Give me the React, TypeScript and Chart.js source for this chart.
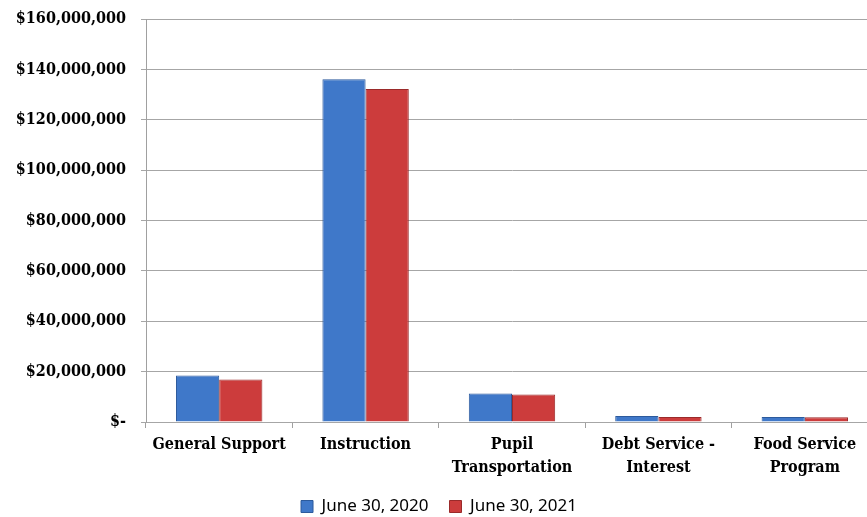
import React, { useEffect, useRef } from "react";
import { Chart, registerables } from "chart.js";

Chart.register(...registerables);

const categories: (string | string[])[] = [
  "General Support",
  "Instruction",
  ["Pupil", "Transportation"],
  ["Debt Service -", "Interest"],
  ["Food Service", "Program"],
];
const series2020 = [18500000, 136100000, 11300000, 2400000, 2000000];
const series2021 = [16900000, 132200000, 10900000, 2000000, 1900000];
const seriesLabels = ["June 30, 2020", "June 30, 2021"];
const yMax = 160000000;
const yStep = 20000000;

const serifBold = "'DejaVu Serif Condensed', 'DejaVu Serif', serif";

function fmt(v: number): string {
  if (v === 0) return "$-";
  return "$" + v.toLocaleString("en-US");
}

export default function App() {
  const ref = useRef<HTMLCanvasElement | null>(null);
  useEffect(() => {
    if (!ref.current) return;
    const chart = new Chart(ref.current, {
      type: "bar",
      data: {
        labels: categories,
        datasets: [
          {
            label: seriesLabels[0],
            data: series2020,
            backgroundColor: "#3f78c9",
            borderColor: "#2c5a9c",
            borderWidth: 1,
            categoryPercentage: 0.59,
            barPercentage: 1,
          },
          {
            label: seriesLabels[1],
            data: series2021,
            backgroundColor: "#cc3c3c",
            borderColor: "#9a2a2a",
            borderWidth: 1,
            categoryPercentage: 0.59,
            barPercentage: 1,
          },
        ],
      },
      options: {
        responsive: false,
        animation: false,
        layout: { autoPadding: false, padding: { top: 19, right: 8, bottom: -8, left: 0 } },
        plugins: {
          tooltip: { enabled: false },
          legend: {
            position: "bottom",
            labels: {
              boxWidth: 12,
              boxHeight: 12,
              padding: 21,
              color: "#000",
              font: { family: "'Noto Sans', sans-serif", size: 17 },
            },
          },
        },
        scales: {
          x: {
            afterFit: (scale: any) => {
              scale.height = 55;
            },
            grid: {
              display: true,
              offset: true,
              drawOnChartArea: false,
              tickLength: 6,
              color: "#a0a0a0",
            },
            border: { display: false },
            ticks: {
              color: "#000",
              padding: 6,
              maxRotation: 0,
              autoSkip: false,
              font: { family: serifBold, size: 16, weight: "bold", lineHeight: 1.4 },
            },
          },
          y: {
            min: 0,
            max: yMax,
            afterFit: (scale: any) => {
              scale.width = 146;
              scale.paddingTop = 0;
              scale.paddingBottom = 0;
            },
            grid: { color: "#a6a6a6", tickLength: 5 },
            border: { display: true, color: "#a0a0a0" },
            ticks: {
              stepSize: yStep,
              padding: 15,
              color: "#000",
              font: { family: serifBold, size: 16, weight: "bold" },
              callback: (v: any) => fmt(Number(v)),
            },
          },
        },
      },
    });
    return () => chart.destroy();
  }, []);
  return (
    <div
      style={{
        position: "absolute",
        left: 0,
        top: 0,
        width: 867,
        height: 517,
        overflow: "hidden",
        background: "#fff",
      }}
    >
      <canvas ref={ref} width={886} height={517} style={{ display: "block" }} />
    </div>
  );
}
